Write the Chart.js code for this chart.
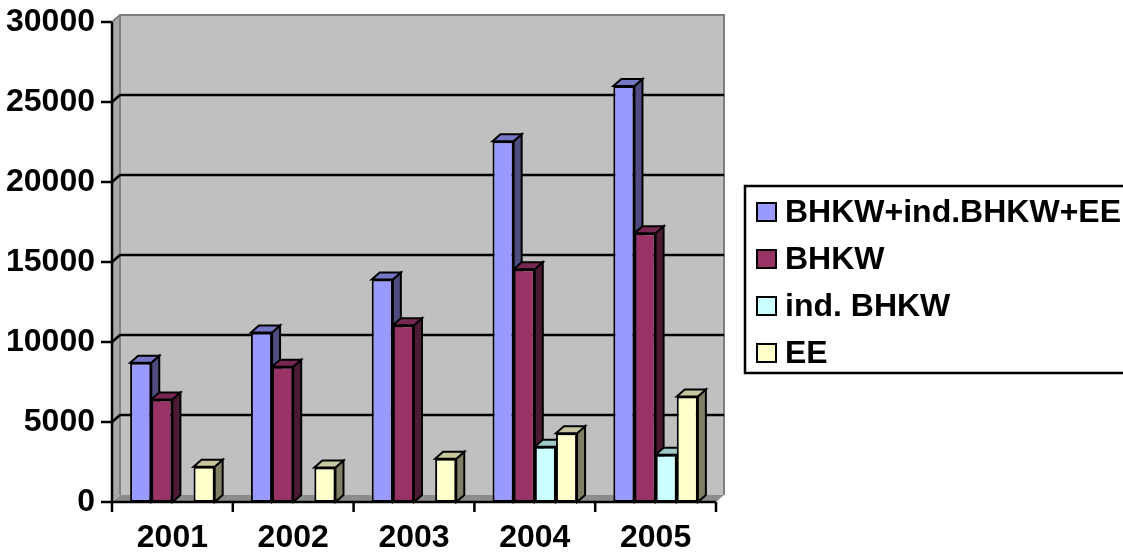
<!DOCTYPE html>
<html>
<head>
<meta charset="utf-8">
<script src="https://cdn.jsdelivr.net/npm/chart.js@4/dist/chart.umd.min.js"></script>
<style>
  html, body { margin: 0; padding: 0; background: #ffffff; }
  canvas { display: block; }
</style>
</head>
<body>
<canvas id="chart" width="1123" height="552"></canvas>
<script>
// Years and series
const years = ["2001", "2002", "2003", "2004", "2005"];
const seriesNames = ["BHKW+ind.BHKW+EE", "BHKW", "ind. BHKW", "EE"];
const total = [8700, 10600, 13900, 22550, 26000];
const bhkw = [6400, 8450, 11050, 14550, 16800];
const indBhkw = [null, null, null, 3450, 2950];
const ee = [2200, 2150, 2700, 4300, 6600];

const colors = ["#9999ff", "#993366", "#ccffff", "#ffffcc"];

// depth offset of the 3d look
const DX = 8;
const DY = -7;
const FONT = "'Liberation Sans', Arial, sans-serif";

// darken a hex colour by factor f
const shade = (hex, f) => {
  const n = parseInt(hex.slice(1), 16);
  const r = Math.round(((n >> 16) & 255) * f);
  const g = Math.round(((n >> 8) & 255) * f);
  const b = Math.round((n & 255) * f);
  return `rgb(${r},${g},${b})`;
};

const poly = (ctx, pts, fill, stroke, lw) => {
  ctx.beginPath();
  ctx.moveTo(pts[0][0], pts[0][1]);
  for (let i = 1; i < pts.length; i++) ctx.lineTo(pts[i][0], pts[i][1]);
  ctx.closePath();
  if (fill) {
    ctx.fillStyle = fill;
    ctx.fill();
  }
  if (stroke) {
    ctx.strokeStyle = stroke;
    ctx.lineWidth = lw;
    ctx.stroke();
  }
};

// walls, floor, gridlines and the side/top faces of the bars
const walls3d = {
  id: "walls3d",
  beforeDatasetsDraw(chart) {
    const { ctx, chartArea: a, scales } = chart;
    const y = scales.y;
    ctx.save();

    // back wall
    poly(ctx, [[a.left + DX, a.top + DY], [a.right + DX, a.top + DY],
      [a.right + DX, a.bottom + DY], [a.left + DX, a.bottom + DY]], "#c0c0c0");
    // left side wall
    poly(ctx, [[a.left, a.top], [a.left + DX, a.top + DY],
      [a.left + DX, a.bottom + DY], [a.left, a.bottom]], "#a8a8a8");
    // floor
    poly(ctx, [[a.left, a.bottom], [a.left + DX, a.bottom + DY],
      [a.right + DX, a.bottom + DY], [a.right, a.bottom]], "#8c8c8c");

    // wall edges
    ctx.strokeStyle = "#808080";
    ctx.lineWidth = 2;
    ctx.beginPath();
    ctx.moveTo(a.left, a.top);
    ctx.lineTo(a.left + DX, a.top + DY);
    ctx.lineTo(a.right + DX, a.top + DY);
    ctx.lineTo(a.right + DX, a.bottom + DY);
    ctx.moveTo(a.left + DX, a.top + DY);
    ctx.lineTo(a.left + DX, a.bottom + DY);
    ctx.stroke();

    // gridlines on the back wall
    ctx.strokeStyle = "#000000";
    ctx.lineWidth = 2.5;
    y.ticks.forEach((t) => {
      if (t.value <= y.min || t.value >= y.max) return;
      const py = y.getPixelForValue(t.value);
      ctx.beginPath();
      ctx.moveTo(a.left, py);
      ctx.lineTo(a.left + DX, py + DY);
      ctx.lineTo(a.right + DX, py + DY);
      ctx.stroke();
    });

    // side and top faces, left to right inside each group
    const metas = chart.data.datasets.map((_, i) => chart.getDatasetMeta(i));
    years.forEach((_, idx) => {
      metas.forEach((meta, di) => {
        const v = chart.data.datasets[di].data[idx];
        if (v === null || v === undefined) return;
        const bar = meta.data[idx];
        const p = bar.getProps(["x", "y", "base", "width"], true);
        const L = p.x - p.width / 2;
        const R = p.x + p.width / 2;
        const T = p.y;
        const B = p.base;
        const c = colors[di];
        poly(ctx, [[R, T], [R + DX, T + DY], [R + DX, B + DY], [R, B]],
          shade(c, 0.5), "#000000", 2);
        poly(ctx, [[L, T], [L + DX, T + DY], [R + DX, T + DY], [R, T]],
          shade(c, 0.78), "#000000", 2);
      });
    });
    ctx.restore();
  },
  afterDatasetsDraw(chart) {
    const { ctx, chartArea: a, scales } = chart;
    ctx.save();
    ctx.strokeStyle = "#000000";
    ctx.lineWidth = 2.5;
    ctx.beginPath();
    // axis lines
    ctx.moveTo(a.left, a.top);
    ctx.lineTo(a.left, a.bottom);
    ctx.lineTo(a.right, a.bottom);
    // value ticks
    scales.y.ticks.forEach((t) => {
      const py = scales.y.getPixelForValue(t.value);
      ctx.moveTo(a.left - 11, py);
      ctx.lineTo(a.left, py);
    });
    // category ticks between the years
    const step = (a.right - a.left) / years.length;
    for (let i = 0; i <= years.length; i++) {
      const px = a.left + i * step;
      ctx.moveTo(px, a.bottom);
      ctx.lineTo(px, a.bottom + 10);
    }
    ctx.stroke();
    ctx.restore();
  },
  afterDraw(chart) {
    // legend box on the right
    const { ctx, data } = chart;
    ctx.save();
    ctx.fillStyle = "#ffffff";
    ctx.fillRect(745, 186, 400, 187);
    ctx.strokeStyle = "#000000";
    ctx.lineWidth = 2.5;
    ctx.strokeRect(745, 186, 400, 187);
    ctx.font = `bold 32px ${FONT}`;
    ctx.textBaseline = "alphabetic";
    ctx.textAlign = "left";
    data.datasets.forEach((ds, i) => {
      const base = 222 + i * 47;
      ctx.fillStyle = ds.backgroundColor;
      ctx.fillRect(757, base - 19, 19, 18);
      ctx.lineWidth = 2;
      ctx.strokeRect(757, base - 19, 19, 18);
      ctx.fillStyle = "#000000";
      ctx.fillText(ds.label, 785, base);
    });
    ctx.restore();
  },
};

const seriesValues = [total, bhkw, indBhkw, ee];

new Chart(document.getElementById("chart"), {
  type: "bar",
  plugins: [walls3d],
  data: {
    labels: years,
    datasets: seriesValues.map((vals, i) => ({
      label: seriesNames[i],
      data: vals,
      backgroundColor: colors[i],
      borderColor: "#000000",
      borderWidth: 2,
      borderSkipped: false,
      categoryPercentage: 0.7,
      barPercentage: 1.0,
    })),
  },
  options: {
    responsive: false,
    devicePixelRatio: 1,
    animation: false,
    layout: { padding: { left: 0, right: 407, top: 22, bottom: 0 } },
    plugins: {
      legend: { display: false },
      tooltip: { enabled: false },
    },
    scales: {
      x: {
        grid: { display: false, drawTicks: false },
        border: { display: false },
        ticks: { color: "#000000", font: { family: FONT, size: 32, weight: "bold" }, padding: 17 },
        afterFit: (s) => {
          s.height = 50;
          s.paddingLeft = 0;
          s.paddingRight = 0;
        },
      },
      y: {
        min: 0,
        max: 30000,
        grid: { display: false, drawTicks: false },
        border: { display: false },
        ticks: {
          stepSize: 5000,
          color: "#000000",
          padding: 17,
          font: { family: FONT, size: 32, weight: "bold" },
          callback: (v) => String(v),
        },
        afterFit: (s) => {
          s.width = 112;
          s.paddingTop = 0;
          s.paddingBottom = 0;
        },
      },
    },
  },
});
</script>
</body>
</html>
